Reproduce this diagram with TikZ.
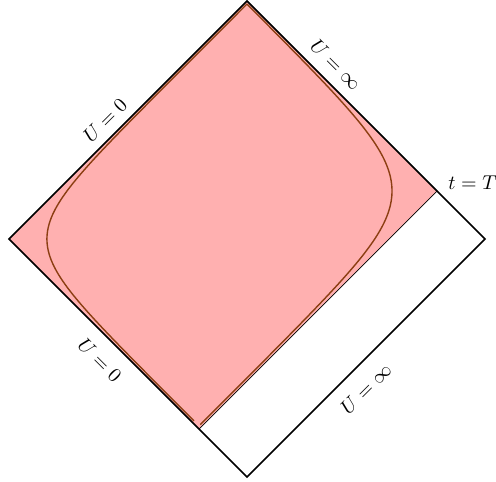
\documentclass[tikz,border=0pt]{standalone}
\usepackage{tikz}
\definecolor{curvebrown}{RGB}{140,62,18}
\begin{document}
\begin{tikzpicture}[x=0.5pt,y=-0.5pt,
  edge/.style={line width=0.8pt,black,line join=miter},
  region/.style={fill=red!31,draw=black,line width=0.35pt},
  worldline/.style={curvebrown,line width=0.7pt,smooth,samples=220},
  lbl/.style={font=\normalsize}]
\useasboundingbox (0,0) rectangle (496,481);
\coordinate (T) at (247,1);
\coordinate (L) at (9,239);
\coordinate (B) at (247,477);
\coordinate (R) at (485,239);
\coordinate (P1) at (199,429);
\coordinate (P2) at (437,191);
% shaded region
\path[region] (T) -- (L) -- (P1) -- (P2) -- cycle;
% curve (left branch and right branch)
\draw[worldline] plot[domain=-7.22:9.33, variable=\u]
  ({9 + (25.2*ln(1+exp(-\u))+1.5) + (25.2*ln(1+exp(\u))+1.5)},
   {239 + (25.2*ln(1+exp(-\u))+1.5) - (25.2*ln(1+exp(\u))+1.5)});
\draw[worldline] plot[domain=-7.71:6.17, variable=\u]
  ({9 + (188.5 - 30.3*ln(1+exp(\u))) + (236.5 - 30.3*ln(1+exp(-\u)))},
   {239 + (188.5 - 30.3*ln(1+exp(\u))) - (236.5 - 30.3*ln(1+exp(-\u)))});
% diamond
\draw[edge] (T) -- (L) -- (B) -- (R) -- cycle;
% labels
\node[lbl,rotate=45] (l1) at (105,120) {$U=0$};
\node[lbl,rotate=-45] (l2) at (336,65) {$U=\infty$};
\node[lbl,rotate=-45] (l3) at (100,360) {$U=0$};
\node[lbl,rotate=45] (l4) at (366,389) {$U=\infty$};
\node[lbl,anchor=base west,inner sep=0pt] (tT) at (448,189) {$t=T$};
\end{tikzpicture}
\end{document}
